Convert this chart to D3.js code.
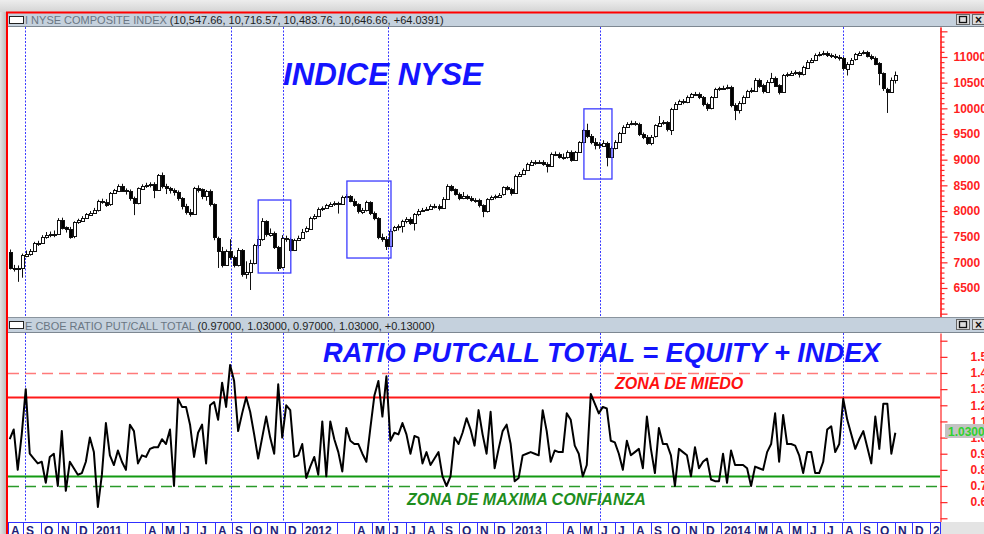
<!DOCTYPE html>
<html><head><meta charset="utf-8">
<script src="https://cdn.jsdelivr.net/npm/d3@7"></script>
<style>body{margin:0;background:#e6e6e6;overflow:hidden}svg{display:block}</style>
</head><body><svg id="c" width="984" height="534"></svg>
<script>
// ---------------- DATA ----------------
const firstWeek = "2010-08-08";
const firstOpen = 7200;
const closes = [
6890,6870,6880,7140,7170,7220,7370,7380,7500,7540,
7560,7560,7830,7680,7650,7500,7780,7820,7870,7940,
7970,8020,8200,8180,8130,8350,8400,8490,8400,8380,
8250,8150,8440,8490,8510,8520,8410,8700,8480,8440,
8400,8370,8250,8100,7980,7950,8450,8420,8280,8380,
8130,7480,7230,6950,7220,7100,6950,7240,6780,6820,
6990,7340,7450,7800,7550,7580,7300,6900,7470,7450,
7240,7440,7480,7600,7660,7870,7900,8040,8060,8110,
8140,8150,8140,8280,8290,8200,8130,7990,8020,8170,
7960,7860,7490,7450,7320,7620,7680,7700,7800,7840,
7770,7940,8000,8020,8040,8100,8100,8060,8240,8490,
8420,8330,8250,8290,8260,8220,8210,8110,7990,8230,
8270,8290,8320,8460,8430,8360,8690,8720,8800,8910,
8960,8950,8960,8920,8890,9120,9120,9060,9050,9150,
9000,9150,9340,9570,9460,9350,9300,9280,9330,9060,
9230,9350,9520,9640,9700,9720,9700,9500,9450,9330,
9450,9670,9720,9730,9590,9990,10090,10140,10120,10220,
10270,10280,10220,10080,10000,10220,10380,10390,10400,10420,
10060,9960,10100,10220,10330,10350,10560,10450,10330,10520,
10600,10450,10320,10650,10660,10690,10700,10660,10800,10910,
10940,11040,11060,11080,11040,11020,11000,10980,10780,10870,
10950,11050,11080,11100,11020,10990,10880,10680,10380,10320,
10548,10647];
const highs = [
7250,6950,6940,7170,7230,7260,7400,7420,7530,7590,
7600,7620,7860,7870,7700,7690,7800,7850,7900,7960,
8000,8060,8220,8240,8230,8370,8430,8520,8530,8440,
8420,8280,8460,8520,8550,8560,8560,8720,8750,8530,
8470,8440,8400,8270,8140,8040,8470,8500,8440,8410,
8420,8150,7500,7300,7250,7450,7130,7280,7260,7020,
7050,7360,7520,7860,7820,7660,7600,7320,7530,7520,
7480,7460,7520,7650,7700,7890,7940,8070,8090,8140,
8170,8190,8180,8300,8330,8310,8240,8150,8060,8200,
8190,7990,7880,7560,7510,7650,7710,7740,7830,7880,
7880,7960,8040,8060,8080,8130,8140,8130,8270,8520,
8510,8440,8360,8370,8320,8290,8250,8240,8130,8250,
8300,8320,8350,8480,8490,8450,8710,8760,8830,8940,
8990,8990,8990,8990,8950,9140,9160,9140,9120,9180,
9180,9170,9360,9600,9700,9500,9420,9340,9380,9350,
9260,9380,9540,9670,9730,9760,9750,9720,9530,9480,
9480,9690,9850,9770,9750,10010,10120,10170,10180,10250,
10300,10320,10310,10240,10110,10240,10400,10420,10440,10460,
10440,10100,10140,10250,10360,10400,10590,10580,10480,10550,
10690,10620,10470,10670,10700,10730,10740,10720,10830,10940,
10980,11070,11100,11120,11110,11070,11060,11040,11000,10900,
10980,11080,11110,11130,11120,11050,11010,10900,10700,10400,
10600,10717];
const lows = [
6860,6820,6620,6700,7100,7130,7200,7320,7360,7460,
7490,7490,7540,7640,7580,7460,7470,7750,7800,7850,
7920,7950,7990,8140,8080,8100,8330,8380,8370,8320,
8200,7920,8130,8420,8450,8460,8250,8400,8440,8330,
8340,8300,8200,8030,7930,7890,7940,8360,8230,8200,
8090,7430,6890,6900,6930,7050,6900,6920,6720,6680,
6461,6960,7270,7420,7500,7500,7260,6830,6880,7400,
7200,7220,7420,7460,7580,7650,7830,7880,8000,8040,
8080,8100,7950,8120,8250,8170,8080,7950,7940,7990,
7920,7820,7450,7400,7240,7300,7600,7620,7580,7760,
7730,7620,7900,7980,8000,8020,8050,8010,8040,8220,
8380,8300,8210,8230,8220,8180,8160,8070,7880,7970,
8210,8230,8270,8300,8400,8300,8350,8660,8700,8780,
8890,8900,8920,8880,8750,8870,9070,9020,9000,9020,
8960,8980,9130,9320,9420,9300,9200,9210,9250,8870,
9030,9200,9330,9500,9620,9670,9660,9460,9400,9290,
9280,9430,9650,9680,9550,9480,9970,10070,10080,10100,
10200,10240,10180,10040,9950,9980,10200,10340,10360,10370,
10020,9770,9900,10080,10200,10300,10330,10400,10290,10310,
10490,10420,10270,10300,10610,10630,10650,10600,10640,10780,
10880,10920,11010,11030,11000,10980,10960,10930,10740,10640,
10850,10930,11040,11050,10990,10940,10840,10450,10340,9910,
10300,10484];
const putCall = [
0.99,1.05,0.80,1.02,1.30,0.90,0.87,0.84,0.85,0.72,
0.88,0.90,0.70,1.04,0.67,0.85,0.81,0.77,0.78,0.85,
1.00,0.91,0.57,0.77,1.09,0.89,0.83,0.92,0.85,0.80,
1.08,1.04,0.84,0.89,0.88,0.93,0.94,0.94,0.99,0.96,
1.05,0.70,1.24,1.19,1.19,1.08,0.88,1.03,1.08,0.84,
1.20,1.22,1.11,1.34,1.19,1.45,1.35,1.04,1.15,1.25,
1.16,1.02,0.87,1.00,1.13,1.00,0.90,1.33,1.00,1.20,
1.17,0.88,0.89,0.96,0.75,0.82,0.88,0.77,1.10,0.76,
1.10,0.99,0.91,0.79,1.06,0.98,0.96,0.96,0.90,0.85,
1.06,1.26,1.35,1.13,1.38,0.98,1.03,1.02,1.09,1.02,
0.90,1.01,1.00,0.84,0.91,0.83,0.87,0.91,0.76,0.70,
0.76,1.00,0.96,1.03,1.12,1.05,0.95,1.17,1.02,0.90,
1.16,0.81,0.93,1.04,1.08,0.96,0.73,0.75,0.89,0.90,
0.91,0.90,0.89,1.17,1.04,0.85,0.92,0.91,0.91,1.15,
1.11,0.95,0.90,0.76,0.83,1.27,1.21,1.15,1.19,1.18,
0.98,0.97,0.90,0.80,0.98,0.89,0.91,0.93,0.81,1.13,
0.93,0.78,1.06,0.96,0.96,0.89,0.70,0.93,0.91,0.89,
0.76,0.94,0.81,0.85,0.87,0.74,0.73,0.73,0.90,0.72,
0.92,0.83,0.83,0.83,0.81,0.70,0.82,0.81,0.80,0.91,
0.96,1.15,0.85,1.14,0.96,0.96,0.95,0.89,0.78,0.91,
0.91,0.78,0.78,0.85,1.05,1.07,0.91,0.96,1.24,1.11,
1.02,0.93,0.99,1.04,0.94,0.84,1.13,0.93,1.21,1.21,
0.90,1.03];
const priceTicks = [6500,7000,7500,8000,8500,9000,9500,10000,10500,11000];
const pcTicks = [0.6,0.7,0.8,0.9,1.0,1.1,1.2,1.3,1.4,1.5];
const fearLine = 1.25, fearDash = 1.40, confLine = 0.76, confDash = 0.70;
const lastPC = "1.0300";
const monthText = [
"A","S","O","N","D",
"2011",null,"","A","M","J","J","A","S","O","N","D",
"2012",null,"","A","M","J","J","A","S","O","N","D",
"2013",null,"","A","M","J","J","A","S","O","N","D",
"2014",null,"M","A","M","J","J","A","S","O","N","D",
"2015"];
const markerDates = ["2010-09-04","2011-08-30","2011-11-28","2012-05-30","2013-06-04","2014-08-03"];
const boxFrom = ["2011-10-16","2012-03-19","2013-05-07"];
const boxTo   = ["2011-12-12","2012-06-04","2013-06-25"];
const boxHi   = [8214,8584,9990];
const boxLo   = [6792,7084,8623];
const title1a = "I NYSE COMPOSITE INDEX ", title1b = "(10,547.66, 10,716.57, 10,483.76, 10,646.66, +64.0391)";
const title2a = "E CBOE RATIO PUT/CALL TOTAL ", title2b = "(0.97000, 1.03000, 0.97000, 1.03000, +0.13000)";

// ---------------- DRAW ----------------
(function () {
const svg = d3.select("#c");
const parse = d3.timeParse("%Y-%m-%d");
const F = "'Liberation Sans', Arial, sans-serif";
const defs = svg.append("defs");
const gT = defs.append("linearGradient").attr("id","gT").attr("x1",0).attr("y1",0).attr("x2",0).attr("y2",1);
gT.append("stop").attr("offset",0).attr("stop-color","#ededed");
gT.append("stop").attr("offset",1).attr("stop-color","#d4d4d4");
const gL = defs.append("linearGradient").attr("id","gL").attr("x1",0).attr("y1",0).attr("x2",1).attr("y2",0);
gL.append("stop").attr("offset",0).attr("stop-color","#e4e4e4");
gL.append("stop").attr("offset",1).attr("stop-color","#b8b8b8");
defs.append("clipPath").attr("id","cT").append("rect").attr("x",8).attr("y",27).attr("width",932).attr("height",290);
defs.append("clipPath").attr("id","cB").append("rect").attr("x",8).attr("y",333).attr("width",932).attr("height",189);
defs.append("clipPath").attr("id","cX").append("rect").attr("x",8).attr("y",522).attr("width",932).attr("height",12);

svg.append("rect").attr("width",984).attr("height",534).attr("fill","#e6e6e6");
svg.append("rect").attr("width",984).attr("height",12).attr("fill","url(#gT)");
svg.append("rect").attr("y",12).attr("width",7).attr("height",522).attr("fill","url(#gL)");
svg.append("rect").attr("x",8).attr("y",13).attr("width",976).attr("height",521).attr("fill","#fff");

const x = d3.scaleTime().domain([parse("2010-08-05"), parse("2015-01-19")]).range([8, 940]);
const yP = d3.scaleLinear().domain([6500, 11000]).range([288, 57]);
const yR = d3.scaleLinear().domain([0.7, 1.4]).range([486, 373]);
const weeks = closes.map((_, i) => d3.timeWeek.offset(parse(firstWeek), i));

// dotted markers (behind the data)
markerDates.forEach(m => {
  const xm = Math.round(x(parse(m))) + 0.5;
  [[27,317],[333,522]].forEach(([a,b]) => svg.append("line").attr("x1",xm).attr("x2",xm).attr("y1",a).attr("y2",b)
    .attr("stroke","#3a3aff").attr("stroke-width",1).attr("stroke-dasharray","2,1.5"));
});

// ---- top panel: candles
const topG = svg.append("g").attr("clip-path","url(#cT)");
const candles = closes.map((c, i) => ({
  d: weeks[i], o: i === 0 ? firstOpen : closes[i-1], c, h: highs[i], l: lows[i]
}));
const cg = topG.selectAll("g.cd").data(candles).join("g").attr("class","cd");
cg.append("line")
  .attr("x1", d => Math.round(x(d.d)) + 0.5).attr("x2", d => Math.round(x(d.d)) + 0.5)
  .attr("y1", d => yP(d.h)).attr("y2", d => yP(d.l))
  .attr("stroke","#111").attr("stroke-width",1);
cg.append("rect")
  .attr("x", d => Math.round(x(d.d)) - 0.5).attr("width", 3)
  .attr("y", d => Math.round(yP(Math.max(d.o,d.c))) + 0.5)
  .attr("height", d => Math.max(1, Math.round(Math.abs(yP(d.o) - yP(d.c)))))
  .attr("fill", d => d.c >= d.o ? "#fff" : "#000")
  .attr("stroke","#111").attr("stroke-width",1);

// boxes
boxFrom.forEach((f, i) => {
  topG.append("rect")
    .attr("x", x(parse(f))).attr("width", x(parse(boxTo[i])) - x(parse(f)))
    .attr("y", yP(boxHi[i])).attr("height", yP(boxLo[i]) - yP(boxHi[i]))
    .attr("fill","none").attr("stroke","#3b3bff").attr("stroke-width",1.3);
});

// ---- bottom panel
const botG = svg.append("g").attr("clip-path","url(#cB)");
const hl = (v, col, dash, w) => botG.append("line").attr("x1",8).attr("x2",940)
  .attr("y1", Math.round(yR(v)) + 0.5).attr("y2", Math.round(yR(v)) + 0.5)
  .attr("stroke", col).attr("stroke-width", w).attr("stroke-dasharray", dash);
hl(fearDash, "#ff7a7a", "11,6", 1.5);
hl(fearLine, "#ff1a1a", null, 2);
hl(confLine, "#139a13", null, 2);
hl(confDash, "#2a9a2a", "11,6", 1.3);
botG.append("path").datum(putCall)
  .attr("d", d3.line().x((v, i) => x(weeks[i])).y(v => yR(v)))
  .attr("fill","none").attr("stroke","#000").attr("stroke-width",2).attr("stroke-linejoin","round");

// big texts
const bt = (t, xx, yy, size, col) => svg.append("text").attr("x",xx).attr("y",yy).text(t)
  .attr("font-family",F).attr("font-weight","bold").attr("font-style","italic").attr("font-size",size).attr("fill",col);
bt("INDICE NYSE", 283, 85, 31.3, "#1414ff");
bt("RATIO PUTCALL TOTAL = EQUITY + INDEX", 323, 362, 27.2, "#1414ff");
bt("ZONA DE MIEDO", 615, 389, 16, "#ff1010");
bt("ZONA DE MAXIMA CONFIANZA", 407, 505, 16, "#1e8e1e");

// ---- axes
const yPa = yP.copy().domain([yP.invert(317), yP.invert(27)]).range([317, 27]);
const minorP = d3.range(5900, 11600, 100).filter(v => v % 500 !== 0);
const axP1 = svg.append("g").attr("transform","translate(940.5,0)")
  .call(d3.axisRight(yPa).tickValues(minorP).tickSize(4).tickSizeOuter(0).tickFormat(""));
const axP2 = svg.append("g").attr("transform","translate(940.5,0)")
  .call(d3.axisRight(yPa).tickValues(d3.range(6000, 11501, 500)).tickSize(7).tickSizeOuter(0).tickPadding(6)
    .tickFormat(v => priceTicks.includes(v) ? String(v) : ""));
const yRa = yR.copy().domain([yR.invert(522), yR.invert(333)]).range([522, 333]);
const axR = svg.append("g").attr("transform","translate(940.5,0)")
  .call(d3.axisRight(yRa).tickValues(d3.range(5, 17).map(k => k / 10)).tickSize(7).tickSizeOuter(0).tickPadding(23)
    .tickFormat(v => pcTicks.some(t => Math.abs(t - v) < 1e-9) ? d3.format(".2f")(v) : ""));
[axP1, axP2, axR].forEach(a => {
  a.selectAll("path, line").attr("stroke","#ff2424").attr("stroke-width",1.2);
  a.selectAll("text").attr("fill","#ff1e1e").attr("font-family",F).attr("font-weight","bold").attr("font-size",12);
});

// last value tag
svg.append("rect").attr("x",945).attr("y",424).attr("width",39).attr("height",14).attr("fill","#c3c3c3");
svg.append("text").attr("x",948).attr("y",435.5).text(lastPC).attr("fill","#2fd12f")
  .attr("font-family",F).attr("font-weight","bold").attr("font-size",12);

// ---- time axis row
svg.append("rect").attr("x",941).attr("y",522).attr("width",43).attr("height",12).attr("fill","#e4e4e4");
svg.append("line").attr("x1",8).attr("x2",941).attr("y1",522.5).attr("y2",522.5).attr("stroke","#3030ff");
const months = d3.timeMonth.range(parse("2010-08-01"), parse("2015-02-01"));
const xr = svg.append("g").attr("clip-path","url(#cX)");
months.forEach((m, i) => {
  const t = monthText[i];
  if (t === null || t === undefined) return;
  const xm = Math.max(8, Math.round(x(m)));
  xr.append("line").attr("x1",xm+0.5).attr("x2",xm+0.5).attr("y1",522).attr("y2",534).attr("stroke","#3030ff");
  xr.append("text").attr("x",xm+3).attr("y",534.5).text(t).attr("fill","#1c1c78")
    .attr("font-family",F).attr("font-weight","bold").attr("font-size",12);
});
svg.append("line").attr("x1",940.5).attr("x2",940.5).attr("y1",522).attr("y2",534).attr("stroke","#3030ff");

// ---- title bars
function bar(y0, h, ta, tb) {
  svg.append("rect").attr("x",8).attr("y",y0).attr("width",976).attr("height",h).attr("fill","#c5d1dd");
  svg.append("line").attr("x1",8).attr("x2",984).attr("y1",y0+h-0.5).attr("y2",y0+h-0.5).attr("stroke","#7d8791");
  svg.append("rect").attr("x",9.5).attr("y",y0+3.5).attr("width",14).attr("height",7).attr("fill","#fff").attr("stroke","#222");
  const t = svg.append("text").attr("x",25).attr("y",y0+h-3).attr("font-family",F).attr("font-size",11);
  t.append("tspan").text(ta).attr("fill","#6a7683");
  t.append("tspan").text(tb).attr("fill","#1e1e1e");
  svg.append("rect").attr("x",956.5).attr("y",y0+1.5).attr("width",13).attr("height",10).attr("fill","#dcdcdc").attr("stroke","#666");
  svg.append("rect").attr("x",959.5).attr("y",y0+3.5).attr("width",7).attr("height",6).attr("fill","none").attr("stroke","#111").attr("stroke-width",1.3);
  svg.append("rect").attr("x",972.5).attr("y",y0+1.5).attr("width",13).attr("height",10).attr("fill","#dcdcdc").attr("stroke","#666");
  svg.append("text").attr("x",975).attr("y",y0+10.5).text("×").attr("font-family",F).attr("font-weight","bold").attr("font-size",12).attr("fill","#111");
}
bar(13, 14, title1a, title1b);
svg.append("line").attr("x1",8).attr("x2",984).attr("y1",317.5).attr("y2",317.5).attr("stroke","#8a949e");
bar(318, 15, title2a, title2b);

// red window border
svg.append("line").attr("x1",6).attr("x2",984).attr("y1",12.5).attr("y2",12.5).attr("stroke","#ff0000").attr("stroke-width",2);
svg.append("line").attr("x1",7).attr("x2",7).attr("y1",12).attr("y2",534).attr("stroke","#ff0000").attr("stroke-width",2);
})();
</script>
</body></html>
